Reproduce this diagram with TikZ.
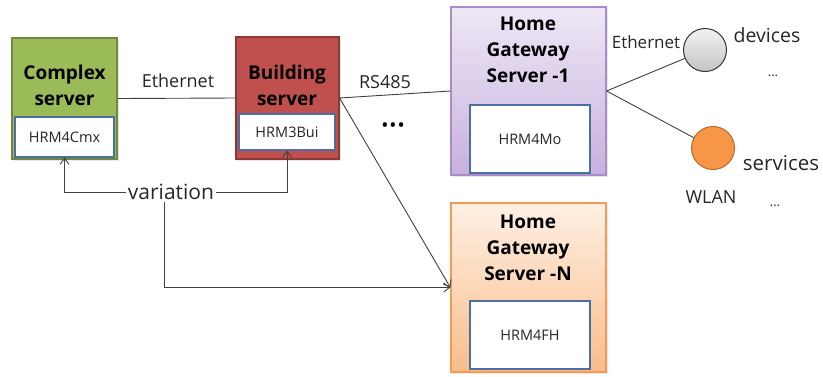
\documentclass[tikz,border=0pt]{standalone}
\usepackage{fontspec}
\setmainfont{Open Sans}
\usetikzlibrary{arrows.meta,shadows}
\definecolor{cmxfill}{HTML}{9BBB59}
\definecolor{cmxline}{HTML}{71893F}
\definecolor{buifill}{HTML}{C0504D}
\definecolor{builine}{HTML}{8C3836}
\definecolor{innerline}{HTML}{4A6FA0}
\definecolor{gwtop}{HTML}{EEE8F6}
\definecolor{gwbot}{HTML}{C7B1DE}
\definecolor{gwline}{HTML}{A98DCB}
\definecolor{fhtop}{HTML}{FEF0E4}
\definecolor{fhbot}{HTML}{F9BD8B}
\definecolor{fhline}{HTML}{F49A52}
\definecolor{devtop}{HTML}{F2F2F2}
\definecolor{devbot}{HTML}{C4C4C4}
\definecolor{srvfill}{HTML}{F79646}
\definecolor{srvline}{HTML}{B5682C}
\definecolor{txtgrey}{HTML}{262626}
\begin{document}
\begin{tikzpicture}[x=1pt,y=-1pt,
  server/.style={draw, line width=1.2pt, inner sep=0pt,
    drop shadow={opacity=0.18, shadow xshift=2pt, shadow yshift=-2pt}},
  module/.style={draw=innerline, line width=1.2pt, fill=white, inner sep=0pt,
    text=txtgrey, font=\fontsize{14.5}{16}\selectfont},
  title/.style={align=center, font=\bfseries\fontsize{19}{26}\selectfont, inner sep=0pt},
  label/.style={font=\fontsize{18}{20}\selectfont, inner sep=0pt, text=txtgrey},
  conn/.style={draw=black!75, line width=0.9pt},
  arr/.style={conn, -{Straight Barb[length=6pt,width=9pt,line width=0.9pt]}},
  peer/.style={circle, minimum size=43pt, inner sep=0pt, line width=1pt}
]
\useasboundingbox (0,0) rectangle (823,376);

% Complex server
\node[server, fill=cmxfill, draw=cmxline, minimum width=105pt, minimum height=121pt] (cs) at (64.5,98.5) {};
\node[title] (cst) at (64.5,85.5) {Complex\\server};
\node[module, minimum width=99pt, minimum height=40pt] (ci) at (64.5,137) {HRM4Cmx};

% Building server
\node[server, fill=buifill, draw=builine, minimum width=103pt, minimum height=122pt] (bs) at (287.5,98) {};
\node[title] (bst) at (287,85.5) {Building\\server};
\node[module, minimum width=96pt, minimum height=36pt] (bi) at (287,132) {HRM3Bui};

% Home gateway server 1
\node[server, top color=gwtop, bottom color=gwbot, draw=gwline, minimum width=155pt, minimum height=168pt] (h1) at (528.5,91) {};
\node[title] (h1t) at (528,50) {Home\\Gateway\\Server -1};
\node[module, minimum width=120pt, minimum height=68pt] (h1i) at (530,139) {HRM4Mo};

% Home gateway server N
\node[server, top color=fhtop, bottom color=fhbot, draw=fhline, minimum width=155pt, minimum height=169pt] (hn) at (528.5,287.5) {};
\node[title] (hnt) at (528,247.5) {Home\\Gateway\\Server -N};
\node[module, minimum width=120pt, minimum height=68pt] (hni) at (530,335) {HRM4FH};

% Devices and services
\node[peer, draw=black!80, top color=devtop, bottom color=devbot] (dev) at (705,50) {};
\node[peer, draw=srvline, fill=srvfill] (srv) at (713,148) {};

% Links
\draw[conn] (cs.east) -- (bs.west);
\draw[conn] (bs.east) -- (h1.west);
\draw[arr] (bs.east) -- (hn.west);
\draw[conn] (h1.east) -- (dev);
\draw[conn] (h1.east) -- (srv);

% Link labels
\node[label] (eth1) at (178,81) {Ethernet};
\node[label] (rs) at (385,82) {RS485};
\node[font=\bfseries\fontsize{15}{16}\selectfont, inner sep=0pt] (dots) at (393,127) {\textbullet\,\textbullet\,\textbullet};
\node[label, font=\fontsize{17}{19}\selectfont] (eth2) at (646,42) {Ethernet};
\node[label, font=\fontsize{19.5}{21}\selectfont] (devl) at (767,35) {devices};
\node[label, font=\fontsize{13}{14}\selectfont] (devd) at (773,76) {...};
\node[label, font=\fontsize{20.5}{22}\selectfont] (srvl) at (781,163) {services};
\node[label, font=\fontsize{18}{20}\selectfont] (wlan) at (711,197) {WLAN};
\node[label, font=\fontsize{13}{14}\selectfont] (srvd) at (775,206) {...};

% Variation arrows
\node[label, font=\fontsize{21}{23}\selectfont, inner sep=2pt] (var) at (171,192) {variation};
\draw[arr] (var.west) -| (ci.south);
\draw[arr] (var.east) -| (bi.south);
\draw[arr] ([xshift=-7pt]var.south) |- (hn.west);
\end{tikzpicture}
\end{document}
